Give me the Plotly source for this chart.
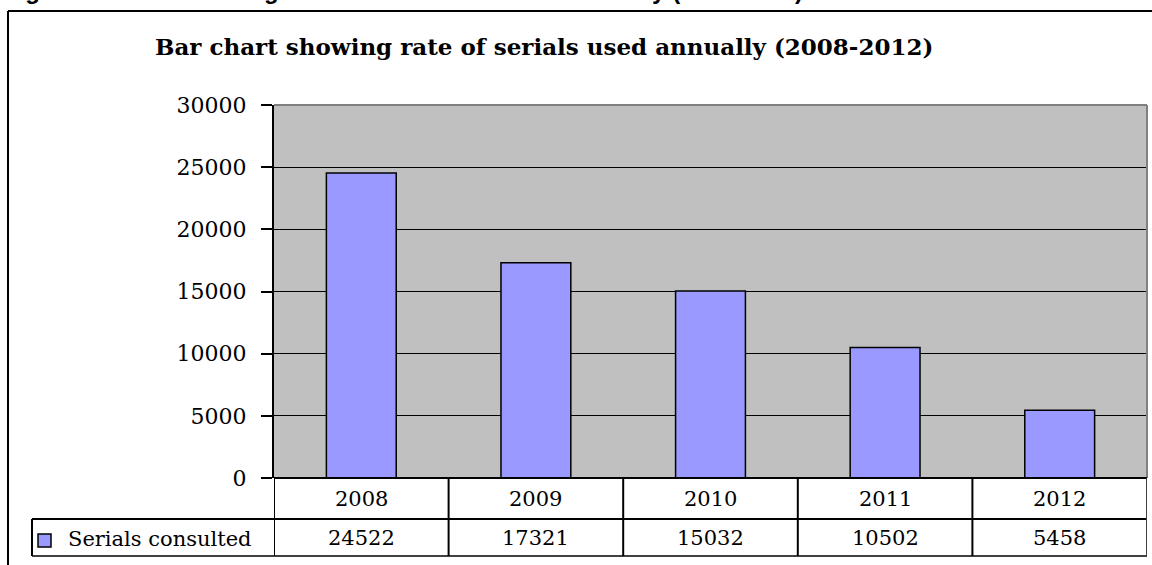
import plotly.graph_objects as go

years = ["2008", "2009", "2010", "2011", "2012"]
serials = [24522, 17321, 15032, 10502, 5458]
series_name = "Serials consulted"
title = "Bar chart showing rate of serials used annually (2008-2012)"
caption = "Figure 4: Chart showing rate of serials consulted annually (2008-2012)"
y_ticks = [0, 5000, 10000, 15000, 20000, 25000, 30000]

W, H = 1152, 565
L, R, T, B = 274, 1147, 105, 478
PW, PH = R - L, B - T


def px(x):
    return (x - L) / PW


def py(y):
    return (B - y) / PH


SERIF = "DejaVu Serif"
fig = go.Figure()
fig.add_trace(go.Bar(
    x=list(range(len(years))), y=serials, name=series_name,
    marker=dict(color="#9999FF", line=dict(color="black", width=1.5)),
    width=0.4, showlegend=False,
))

shapes = []
ann = []
# outer frame (left and top)
shapes.append(dict(type="line", xref="paper", yref="paper", x0=px(8), x1=px(W + 5),
                   y0=py(11), y1=py(11), line=dict(color="black", width=2)))
shapes.append(dict(type="line", xref="paper", yref="paper", x0=px(8), x1=px(8),
                   y0=py(11), y1=py(H + 5), line=dict(color="black", width=2)))
# plot area top/right grey border
shapes.append(dict(type="line", xref="paper", yref="paper", x0=0, x1=1, y0=1, y1=1,
                   line=dict(color="#808080", width=2)))
shapes.append(dict(type="line", xref="paper", yref="paper", x0=1, x1=1, y0=0, y1=1,
                   line=dict(color="#808080", width=2)))

# data table
r1, r2 = 519, 556
for yy, x0, col in [(r1, 32, "black"), (r2, 32, "#404040")]:
    shapes.append(dict(type="line", xref="paper", yref="paper", x0=px(x0), x1=1,
                       y0=py(yy), y1=py(yy), line=dict(color=col, width=2)))
shapes.append(dict(type="line", xref="paper", yref="paper", x0=0, x1=1,
                   y0=0, y1=0, line=dict(color="black", width=2)))
shapes.append(dict(type="line", xref="paper", yref="paper", x0=px(32), x1=px(32),
                   y0=py(r1), y1=py(r2), line=dict(color="black", width=2)))
for i in range(len(years) + 1):
    col = "#404040" if i == len(years) else "black"
    shapes.append(dict(type="line", xref="x", yref="paper", x0=i - 0.5, x1=i - 0.5,
                       y0=0, y1=py(r2), line=dict(color=col, width=2)))
for i, (yr, v) in enumerate(zip(years, serials)):
    ann.append(dict(x=i, xref="x", xanchor="center", y=py((B + r1) / 2), yref="paper",
                    yanchor="middle", text=yr, showarrow=False,
                    font=dict(family=SERIF, size=21, color="black")))
    ann.append(dict(x=i, xref="x", xanchor="center", y=py((r1 + r2) / 2), yref="paper",
                    yanchor="middle", text=str(v), showarrow=False,
                    font=dict(family=SERIF, size=21, color="black")))
# legend key in table
shapes.append(dict(type="rect", xref="paper", yref="paper", x0=px(38), x1=px(51),
                   y0=py(534), y1=py(547), fillcolor="#9999FF",
                   line=dict(color="black", width=1.5)))
ann.append(dict(x=px(66), xref="paper", xanchor="left", y=py((r1 + r2) / 2 + 1),
                yref="paper", yanchor="middle", text=series_name, showarrow=False,
                font=dict(family=SERIF, size=21, color="black")))

# title
ann.append(dict(x=px(544), xref="paper", xanchor="center", y=py(47), yref="paper",
                yanchor="middle", text="<b>" + title + "</b>", showarrow=False,
                font=dict(family=SERIF, size=23, color="black")))
# clipped caption at top
ann.append(dict(x=px(2), xref="paper", xanchor="left", y=py(6), yref="paper",
                yanchor="bottom", text="<b>" + caption + "</b>", showarrow=False,
                font=dict(family="Liberation Sans", size=24, color="black")))

fig.update_layout(
    width=W, height=H,
    margin=dict(l=L, r=W - R, t=T, b=H - B, pad=0),
    paper_bgcolor="white", plot_bgcolor="#C0C0C0",
    bargap=0.6,
    shapes=shapes, annotations=ann,
    xaxis=dict(range=[-0.5, len(years) - 0.5], showticklabels=False, showgrid=False,
               zeroline=False, ticks="", showline=False, fixedrange=True),
    yaxis=dict(range=[0, 30000], tickvals=y_ticks, ticktext=[str(t) for t in y_ticks],
               showgrid=True, gridcolor="black", gridwidth=1, zeroline=False,
               showline=True, linecolor="black", linewidth=2,
               ticks="outside", ticklen=11, tickcolor="black", tickwidth=1.5,
               ticklabelstandoff=10,
               tickfont=dict(family=SERIF, size=22, color="black"), fixedrange=True),
    showlegend=False,
)
fig.write_html(
    "out.html",
    config={"displayModeBar": False},
    post_script="document.body.style.margin='0';document.body.style.overflow='hidden';",
)
